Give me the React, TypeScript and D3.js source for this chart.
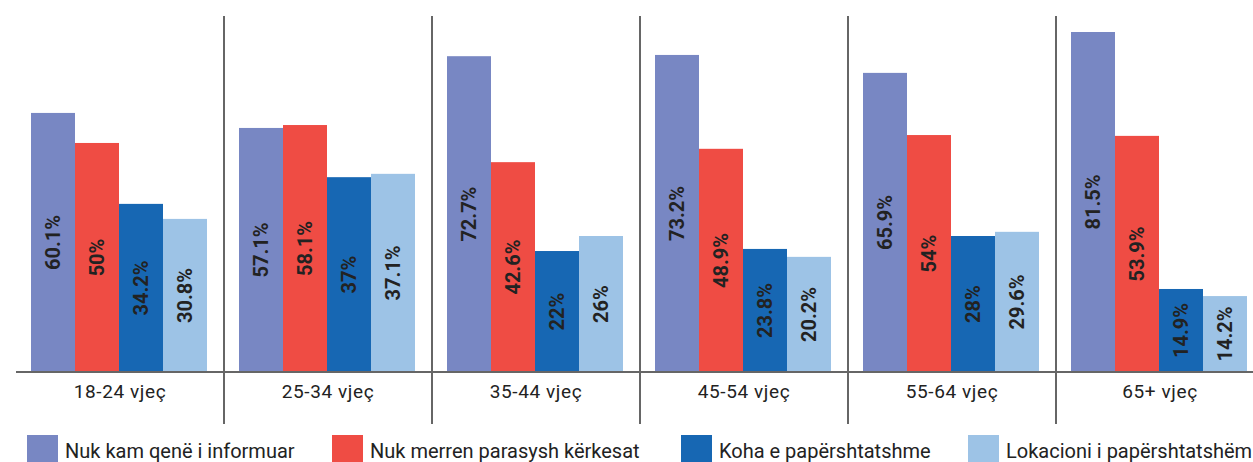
import React from "react";
import * as d3 from "d3";

const categories = ["18-24 vjeç", "25-34 vjeç", "35-44 vjeç", "45-54 vjeç", "55-64 vjeç", "65+ vjeç"];
const seriesNames = [
  "Nuk kam qenë i informuar",
  "Nuk merren parasysh kërkesat",
  "Koha e papërshtatshme",
  "Lokacioni i papërshtatshëm",
];
const seriesColors = ["#7887c3", "#ef4c44", "#1767b3", "#9dc3e6"];

// printed labels (%)
const labelsInformuar = [60.1, 57.1, 72.7, 73.2, 65.9, 81.5];
const labelsKerkesat = [50, 58.1, 42.6, 48.9, 54, 53.9];
const labelsKoha = [34.2, 37, 22, 23.8, 28, 14.9];
const labelsLokacioni = [30.8, 37.1, 26, 20.2, 29.6, 14.2];

// bar lengths as drawn in the picture (same % units)
const barsInformuar = [62.1, 58.5, 75.7, 76.0, 71.7, 81.5];
const barsKerkesat = [54.9, 59.2, 50.3, 53.5, 56.8, 56.6];
const barsKoha = [40.3, 46.7, 29.0, 29.5, 32.6, 19.9];
const barsLokacioni = [36.7, 47.5, 32.6, 27.6, 33.6, 18.2];

const labelSeries = [labelsInformuar, labelsKerkesat, labelsKoha, labelsLokacioni];
const barSeries = [barsInformuar, barsKerkesat, barsKoha, barsLokacioni];

const W = 1253;
const H = 462;
const left = 16;
const groupW = 208;
const baseline = 372;
const font = "Roboto, 'DejaVu Sans', sans-serif";

export default function App() {
  const x0 = d3
    .scaleBand<string>()
    .domain(categories)
    .range([left, left + groupW * categories.length])
    .paddingInner(0)
    .paddingOuter(0);
  const x1 = d3
    .scaleBand<number>()
    .domain([0, 1, 2, 3])
    .range([15, 15 + 176]);
  const y = d3.scaleLinear().domain([0, 81.5]).range([baseline, 32]);

  return (
    <svg
      width={W}
      height={H}
      style={{ position: "absolute", left: 0, top: 0, background: "#fff" }}
    >
      {categories.map((c, gi) => (
        <g key={c} transform={`translate(${x0(c)},0)`}>
          {barSeries.map((arr, si) => {
            const bx = x1(si)!;
            const bw = x1.bandwidth();
            const top = y(arr[gi]);
            return (
              <g key={si}>
                <rect x={bx} y={top} width={bw} height={baseline - top} fill={seriesColors[si]} />
                <text
                  transform={`translate(${bx + bw / 2},${(top + baseline) / 2}) rotate(-90)`}
                  textAnchor="middle"
                  dominantBaseline="central"
                  fontFamily={font}
                  fontWeight={700}
                  fontSize={20}
                  fill="#222"
                >
                  {labelSeries[si][gi]}%
                </text>
              </g>
            );
          })}
          <text
            x={x0.bandwidth() / 2}
            y={398}
            textAnchor="middle"
            fontFamily={font}
            fontSize={19}
            letterSpacing={0.6}
            fill="#222"
          >
            {c}
          </text>
        </g>
      ))}
      {categories.slice(1).map((c) => (
        <line key={c} x1={x0(c)} x2={x0(c)} y1={16} y2={424} stroke="#666" strokeWidth={2} />
      ))}
      <line x1={left} x2={W} y1={baseline} y2={baseline} stroke="#666" strokeWidth={2} />
      {seriesNames.map((n, i) => {
        const lx = [27, 332, 681, 968][i];
        return (
          <g key={n}>
            <rect x={lx} y={435} width={31} height={31} fill={seriesColors[i]} />
            <text x={lx + 38} y={458} fontFamily={font} fontSize={20} fill="#222">
              {n}
            </text>
          </g>
        );
      })}
    </svg>
  );
}
